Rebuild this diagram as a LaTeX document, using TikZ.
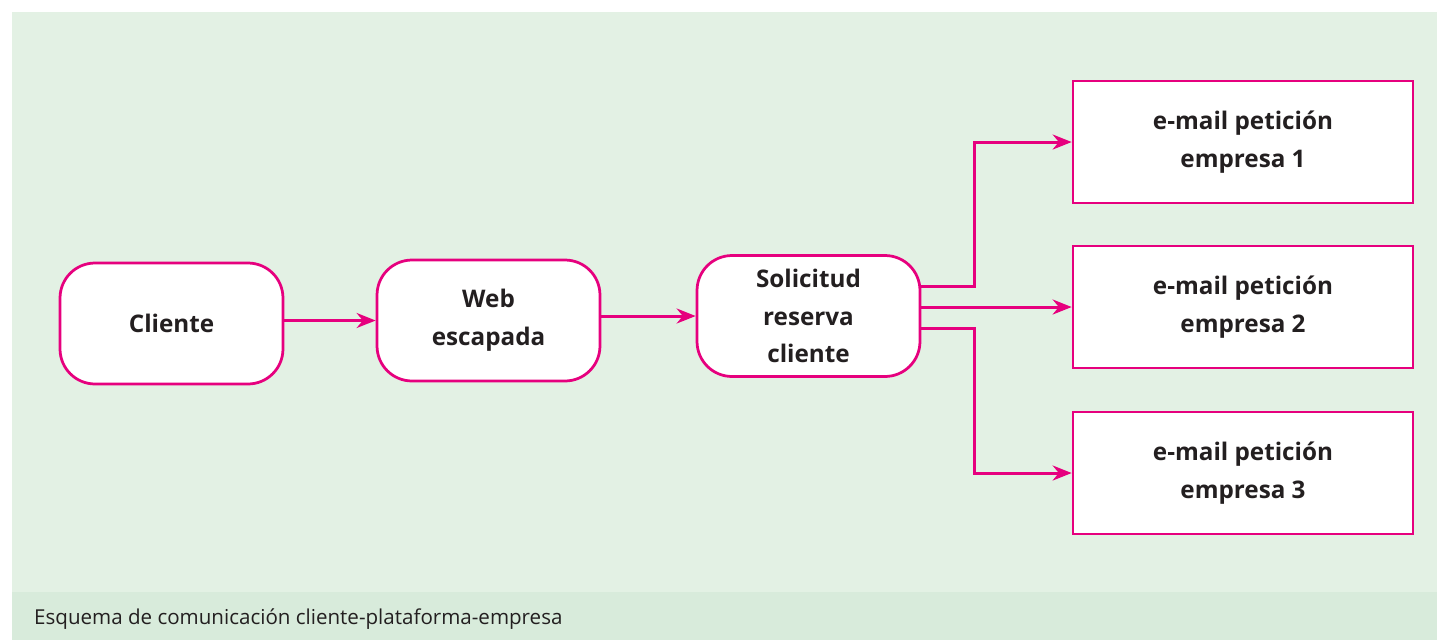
\documentclass[tikz,border=0pt]{standalone}
\usepackage{fontspec}
\setmainfont{Open Sans}
\usetikzlibrary{positioning,arrows.meta}
\definecolor{rosa}{HTML}{E6007E}
\definecolor{fondo}{HTML}{E3F1E4}
\definecolor{pie}{HTML}{D8EBDB}
\definecolor{texto}{HTML}{231F20}
\begin{document}
\begin{tikzpicture}[x=0.02cm,y=-0.02cm,
    caja/.style={draw=rosa,line width=0.055cm,fill=white,align=center,text=texto,
        font=\bfseries\fontsize{13.8}{21.5}\selectfont},
    redondo/.style={caja,rounded corners=0.7cm,minimum width=4.46cm,minimum height=2.42cm},
    correo/.style={caja,minimum width=6.8cm,minimum height=2.44cm},
    flecha/.style={draw=rosa,line width=0.06cm,-{Stealth[length=0.38cm,width=0.3cm]}}]
    %% fondo
    \fill[white] (0,0) rectangle (1437,640);
    \fill[fondo] (12,12) rectangle (1437,592);
    \fill[pie] (12,592) rectangle (1437,640);
    \node[anchor=west,text=texto,font=\fontsize{11.7}{14}\selectfont] (titulo) at (28,619) {Esquema de comunicación cliente-plataforma-empresa};
    %% cajas
    \node[redondo] (cliente) at (171.5,323.5) {Cliente};
    \node[redondo] (web) at (488.5,320.5) {Web\\escapada};
    \node[redondo] (solicitud) at (808.5,316) {Solicitud\\reserva\\cliente};
    \foreach \n/\y in {1/142,2/307,3/473} \node[correo] (empresa\n) at (1243,\y) {e-mail petición\\empresa \n};
    %% flechas
    \coordinate (rama) at (974,307);
    \draw[flecha] (web.west -| cliente.east) -- (web.west);
    \draw[flecha] (solicitud.west -| web.east) -- (solicitud.west);
    \draw[flecha] (empresa2.west -| solicitud.east) -- (empresa2.west);
    \draw[flecha] ([yshift=0.42cm]solicitud.east |- empresa2.west) -| (rama |- empresa1.west) -- (empresa1.west);
    \draw[flecha] ([yshift=-0.42cm]solicitud.east |- empresa2.west) -| (rama |- empresa3.west) -- (empresa3.west);
\end{tikzpicture}
\end{document}
